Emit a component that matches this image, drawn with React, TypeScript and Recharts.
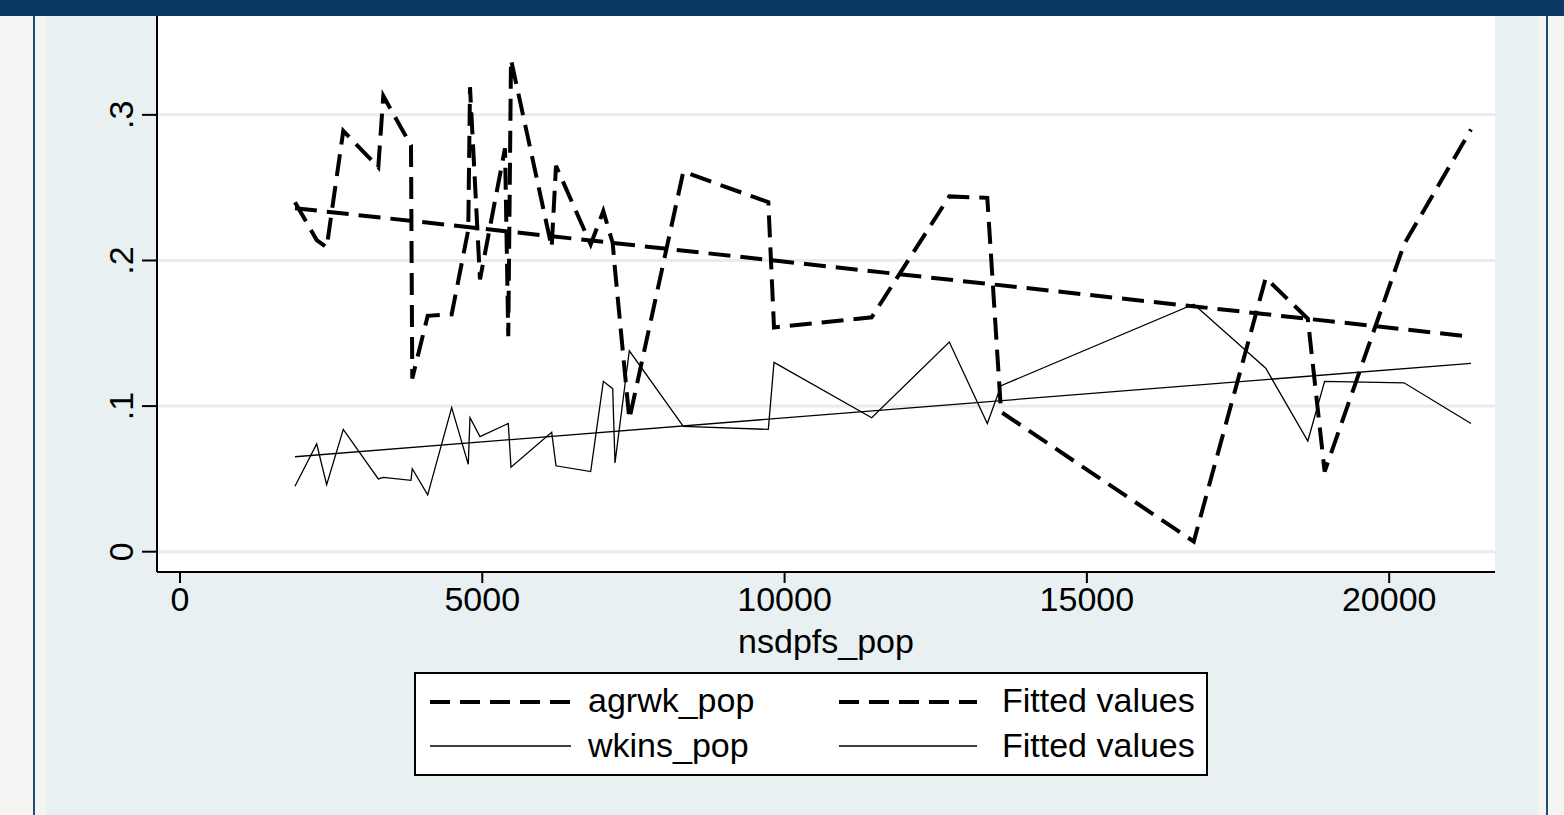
import { CartesianGrid, Line, LineChart, XAxis, YAxis } from "recharts";

// x = nsdpfs_pop, shared by both series
const xVals = [
  1902, 2261, 2426, 2701, 3280, 3363, 3821, 3842, 4097, 4494, 4768, 4797, 4962, 5376, 5430, 5475,
  6148, 6219, 6793, 7002, 7157, 7195, 7432, 8325, 9731, 9825, 11441, 12724, 13353, 13580, 16768,
  17958, 18654, 18932, 20245, 21353,
];
const agrwkPop = [
  0.24, 0.214, 0.209, 0.289, 0.264, 0.313, 0.279, 0.119, 0.162, 0.163, 0.221, 0.319, 0.187, 0.277,
  0.148, 0.338, 0.209, 0.265, 0.211, 0.234, 0.212, 0.194, 0.091, 0.261, 0.24, 0.154, 0.161, 0.244,
  0.243, 0.096, 0.007, 0.188, 0.16, 0.055, 0.211, 0.29,
];
const wkinsPop = [
  0.045, 0.074, 0.046, 0.084, 0.05, 0.051, 0.049, 0.057, 0.039, 0.099, 0.06, 0.092, 0.079, 0.087,
  0.088, 0.058, 0.082, 0.059, 0.055, 0.117, 0.112, 0.061, 0.138, 0.086, 0.084, 0.13, 0.092, 0.144,
  0.088, 0.114, 0.17, 0.126, 0.076, 0.117, 0.116, 0.088,
];
// fitted lines: value at first and last x
const fitX = [1902, 21353];
const fitAgrwk = [0.2359, 0.1477];
const fitWkins = [0.0652, 0.1294];

const xTicks = [0, 5000, 10000, 15000, 20000];
const yTicks = [0, 0.1, 0.2, 0.3];

const agrwkData = xVals.map((x, i) => ({ x, y: agrwkPop[i] }));
const wkinsData = xVals.map((x, i) => ({ x, y: wkinsPop[i] }));
const fitAgrwkData = fitX.map((x, i) => ({ x, y: fitAgrwk[i] }));
const fitWkinsData = fitX.map((x, i) => ({ x, y: fitWkins[i] }));

const FONT = '"Liberation Sans", Arial, Helvetica, sans-serif';
const DASH = "22 10";

const fmtY = (v: number) => (v === 0 ? "0" : String(v).replace(/^0/, ""));

function YTick(p: any) {
  const bx = p.x - 7;
  return (
    <text
      x={bx}
      y={p.y}
      transform={`rotate(-90 ${bx} ${p.y})`}
      textAnchor="middle"
      fontSize={34}
      fontFamily={FONT}
      fill="#000"
    >
      {fmtY(p.payload.value)}
    </text>
  );
}

function XTick(p: any) {
  return (
    <text x={p.x} y={p.y + 26} textAnchor="middle" fontSize={34} fontFamily={FONT} fill="#000">
      {p.payload.value}
    </text>
  );
}

function LegendBox() {
  return (
    <svg
      width={794}
      height={104}
      style={{ position: "absolute", left: 414, top: 672 }}
      fontFamily={FONT}
      fontSize={34}
    >
      <rect x={1} y={1} width={792} height={102} fill="#fff" stroke="#000" strokeWidth={2} />
      <line x1={16} x2={157} y1={30} y2={30} stroke="#000" strokeWidth={4} strokeDasharray="20 10" />
      <text x={174} y={40}>agrwk_pop</text>
      <line x1={425} x2={563} y1={30} y2={30} stroke="#000" strokeWidth={4} strokeDasharray="20 10" />
      <text x={588} y={40}>Fitted values</text>
      <line x1={16} x2={157} y1={74} y2={74} stroke="#000" strokeWidth={1.3} />
      <text x={174} y={85}>wkins_pop</text>
      <line x1={425} x2={563} y1={74} y2={74} stroke="#000" strokeWidth={1.3} />
      <text x={588} y={85}>Fitted values</text>
    </svg>
  );
}

export default function App() {
  return (
    <div
      style={{
        position: "absolute",
        left: 0,
        top: 0,
        width: 1564,
        height: 815,
        overflow: "hidden",
        background: "#f4f4f3",
        fontFamily: FONT,
      }}
    >
      <div style={{ position: "absolute", left: 33, top: 0, width: 2, height: 815, background: "#1e4d7a" }} />
      <div style={{ position: "absolute", left: 1546, top: 0, width: 2, height: 815, background: "#1e4d7a" }} />
      <div style={{ position: "absolute", left: 46, top: 0, width: 1491, height: 815, background: "#e8f0f2" }} />

      <div style={{ position: "absolute", left: 0, top: 0 }}>
        <LineChart width={1564} height={815} margin={{ top: 16, right: 69, bottom: 163, left: 97 }}>
          <CartesianGrid
            horizontal
            vertical={false}
            fill="#ffffff"
            stroke="#e4edef"
            strokeWidth={3}
            horizontalValues={yTicks}
          />
          <XAxis
            type="number"
            dataKey="x"
            domain={[-380, 21750]}
            allowDataOverflow
            ticks={xTicks}
            height={80}
            tickSize={11}
            tick={<XTick />}
            axisLine={{ stroke: "#000", strokeWidth: 2 }}
            tickLine={{ stroke: "#000", strokeWidth: 2 }}
            label={() => (
              <text x={826} y={653} textAnchor="middle" fontSize={34} fontFamily={FONT} fill="#000">
                nsdpfs_pop
              </text>
            )}
          />
          <YAxis
            type="number"
            dataKey="y"
            domain={[-0.01394, 0.3679]}
            allowDataOverflow
            ticks={yTicks}
            width={60}
            tickSize={15}
            tick={<YTick />}
            axisLine={{ stroke: "#000", strokeWidth: 2 }}
            tickLine={{ stroke: "#000", strokeWidth: 2 }}
          />
          <Line
            data={agrwkData}
            dataKey="y"
            stroke="#000"
            strokeWidth={4}
            strokeDasharray={DASH}
            dot={false}
            type="linear"
            isAnimationActive={false}
          />
          <Line
            data={wkinsData}
            dataKey="y"
            stroke="#000"
            strokeWidth={1.3}
            dot={false}
            type="linear"
            isAnimationActive={false}
          />
          <Line
            data={fitAgrwkData}
            dataKey="y"
            stroke="#000"
            strokeWidth={4}
            strokeDasharray={DASH}
            dot={false}
            type="linear"
            isAnimationActive={false}
          />
          <Line
            data={fitWkinsData}
            dataKey="y"
            stroke="#000"
            strokeWidth={1.3}
            dot={false}
            type="linear"
            isAnimationActive={false}
          />
        </LineChart>
      </div>

      <LegendBox />

      <div style={{ position: "absolute", left: 0, top: 0, width: 1564, height: 16, background: "#0b3764" }} />
    </div>
  );
}
